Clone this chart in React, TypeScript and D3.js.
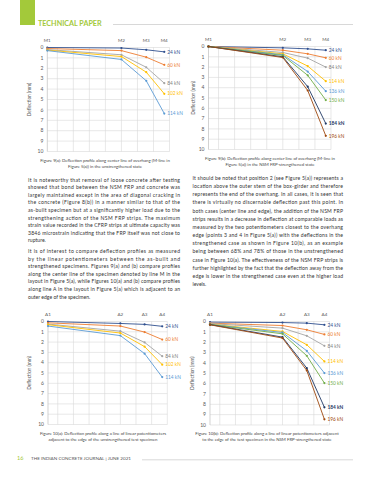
import * as d3 from "d3";
import React from "react";

// potentiometer positions along the overhang (mm) and axis ticks
const gaugePos = [0, 925, 1235, 1460];
const mLabels = ["M1", "M2", "M3", "M4"];
const aLabels = ["A1", "A2", "A3", "A4"];
const yTicks = [0, 1, 2, 3, 4, 5, 6, 7, 8, 9, 10];
const xGrid = [125, 325, 525, 725, 925, 1125, 1325, 1525];

const loadsUnstr = ["24 kN", "60 kN", "84 kN", "102 kN", "114 kN"];
const colorsUnstr = ["#2F4F8F", "#ED7D31", "#A5A5A5", "#FFC000", "#5B9BD5"];
const loadsStr = ["24 kN", "60 kN", "84 kN", "114 kN", "136 kN", "150 kN", "184 kN", "196 kN"];
const colorsStr = ["#2F4F8F", "#ED7D31", "#A5A5A5", "#FFC000", "#5B9BD5", "#70AD47", "#1F3864", "#9E480E"];

const defl9a = [
  [0, 0.05, 0.22, 0.42],
  [0.1, 0.3, 0.93, 1.67],
  [0.2, 0.7, 1.9, 3.43],
  [0.25, 0.87, 2.37, 4.45],
  [0.3, 1.15, 3.2, 6.35],
];
const defl9b = [
  [0, 0.13, 0.23, 0.36],
  [0, 0.36, 0.71, 1.1],
  [0, 0.58, 1.13, 2.0],
  [0, 0.71, 1.9, 3.37],
  [0, 0.8, 2.43, 4.34],
  [0, 0.87, 2.8, 5.2],
  [0, 1.0, 3.9, 7.48],
  [0, 1.07, 4.27, 8.67],
];
const defl10a = [
  [0, 0.19, 0.28, 0.47],
  [0.13, 0.44, 1.03, 1.75],
  [0.25, 0.94, 2.03, 3.37],
  [0.31, 1.12, 2.44, 4.19],
  [0.44, 1.37, 3.12, 5.4],
];
const defl10b = [
  [0.06, 0.1, 0.16, 0.32],
  [0.16, 0.39, 0.8, 1.25],
  [0.2, 0.64, 1.38, 2.35],
  [0.25, 0.96, 2.25, 3.86],
  [0.28, 1.06, 2.83, 4.98],
  [0.3, 1.19, 3.31, 5.95],
  [0.3, 1.51, 4.5, 8.29],
  [0.32, 1.6, 4.73, 9.45],
];

const leftText = [
  ["It is noteworthy that removal of loose concrete after testing", "showed that bond between the NSM FRP and concrete was", "largely maintained except in the area of diagonal cracking in", "the concrete (Figure 8(b)) in a manner similar to that of the", "as-built specimen but at a significantly higher load due to the", "strengthening action of the NSM FRP strips. The maximum", "strain value recorded in the CFRP strips at ultimate capacity was", "3846 microstrain indicating that the FRP itself was not close to", "rupture."],
  ["It is of interest to compare deflection profiles as measured", "by the linear potentiometers between the as-built and", "strengthened specimens. Figures 9(a) and (b) compare profiles", "along the center line of the specimen denoted by line M in the", "layout in Figure 5(a), while Figures 10(a) and (b) compare profiles", "along line A in the layout in Figure 5(a) which is adjacent to an", "outer edge of the specimen."],
];
const rightText = [
  "It should be noted that position 2 (see Figure 5(a)) represents a",
  "location above the outer stem of the box-girder and therefore",
  "represents the end of the overhang. In all cases, it is seen that",
  "there is virtually no discernable deflection past this point. In",
  "both cases (center line and edge), the addition of the NSM FRP",
  "strips results in a decrease in deflection at comparable loads as",
  "measured by the two potentiometers closest to the overhang",
  "edge (points 3 and 4 in Figure 5(a)) with the deflections in the",
  "strengthened case as shown in Figure 10(b), as an example",
  "being between 68% and 78% of those in the unstrengthened",
  "case in Figure 10(a). The effectiveness of the NSM FRP strips is",
  "further highlighted by the fact that the deflection away from the",
  "edge is lower in the strengthened case even at the higher load",
  "levels.",
];

const FONT = "Lato, 'Open Sans', sans-serif";
const GREEN = "#A3C93A";

interface ChartProps {
  left: number; right: number; top: number; bottom: number;
  gauges: string[];
  loads: string[];
  colors: string[];
  values: number[][];
  caption: string[];
  captionX: number;
  axisLabelX: number;
}

const Chart: React.FC<ChartProps> = (p) => {
  const x = d3.scaleLinear().domain([0, 1525]).range([p.left, p.right]);
  const y = d3.scaleLinear().domain([0, 10]).range([p.top, p.bottom]);
  const line = d3.line<number>().x((_, i) => x(gaugePos[i])).y((d) => y(d));
  return (
    <g fontFamily={FONT}>
      {yTicks.map((t) => (
        <g key={"h" + t}>
          <line x1={p.left} x2={p.right} y1={y(t)} y2={y(t)} stroke="#D9D9D9" strokeWidth={0.6} />
          <text x={p.left - 4} y={y(t) + 1.7} fontSize={5} textAnchor="end" fill="#595959">{t}</text>
        </g>
      ))}
      {xGrid.map((g) => (
        <line key={"v" + g} x1={x(g)} x2={x(g)} y1={p.top} y2={p.bottom} stroke="#D9D9D9" strokeWidth={0.6} />
      ))}
      <line x1={p.left} x2={p.left} y1={p.top} y2={p.bottom} stroke="#BFBFBF" strokeWidth={0.7} />
      {p.gauges.map((g, i) => (
        <text key={g} x={x(gaugePos[i])} y={p.top - 5.5} fontSize={4.6} textAnchor="middle" fill="#595959">{g}</text>
      ))}
      <text transform={`translate(${p.axisLabelX},${(p.top + p.bottom) / 2}) rotate(-90)`} fontSize={4.8} textAnchor="middle" fill="#595959">Deflection (mm)</text>
      {p.values.map((vals, si) => (
        <g key={p.loads[si]}>
          <path d={line(vals) || ""} fill="none" stroke={p.colors[si]} strokeWidth={0.9} />
          {vals.map((v, i) => (
            <circle key={i} cx={x(gaugePos[i])} cy={y(v)} r={1.1} fill={p.colors[si]} />
          ))}
          <text x={x(gaugePos[3]) + 3} y={y(vals[3]) + 1.7} fontSize={4.8}
            fill={p.colors[si] === "#A5A5A5" ? "#7F7F7F" : p.colors[si]}
            fontWeight={p.loads[si] === "184 kN" ? 700 : 400}>{p.loads[si]}</text>
        </g>
      ))}
      {p.caption.map((c, i) => (
        <text key={i} x={p.captionX} y={p.bottom + 10 + i * 6.3} fontSize={4.3} textAnchor="middle" fill="#444">{c}</text>
      ))}
    </g>
  );
};

const Para: React.FC<{ lines: string[]; x: number; y0: number; step: number; width: number }> = ({ lines, x, y0, step, width }) => (
  <g fontFamily={FONT} fontSize={5.1} fill="#333">
    {lines.map((l, i) => (
      <text key={i} x={x} y={y0 + i * step}
        {...(i < lines.length - 1 ? { textLength: width, lengthAdjust: "spacing" } : {})}>{l}</text>
    ))}
  </g>
);

export default function App() {
  return (
    <svg width={373} height={480} style={{ position: "absolute", left: 0, top: 0, background: "#fff" }}>
      <rect x={20} y={0} width={15} height={25} fill={GREEN} />
      <text x={38} y={25.5} fontFamily={FONT} fontWeight={700} fontSize={7.2} fill={GREEN}>TECHNICAL PAPER</text>
      <line x1={113} x2={353} y1={24.5} y2={24.5} stroke="#BDBDBD" strokeWidth={0.6} />

      <Chart left={47.3} right={169.5} top={47.5} bottom={151.5} gauges={mLabels}
        loads={loadsUnstr} colors={colorsUnstr} values={defl9a} captionX={105} axisLabelX={31}
        caption={["Figure 9(a): Deflection profile along center line of overhang (M-line in", "Figure 5(a)) in the unstrengthened state"]} />
      <Chart left={208.5} right={331} top={46.5} bottom={149.5} gauges={mLabels}
        loads={loadsStr} colors={colorsStr} values={defl9b} captionX={270} axisLabelX={195}
        caption={["Figure 9(b): Deflection profile along center line of overhang (M-line in", "Figure 5(a)) in the NSM FRP-strengthened state"]} />

      <Para lines={leftText[0]} x={28} y0={181.5} step={7.6} width={152} />
      <Para lines={leftText[1]} x={28} y0={253} step={7.6} width={152} />
      <Para lines={rightText} x={192.5} y0={180} step={8.15} width={150.5} />

      <Chart left={48} right={167.3} top={321.5} bottom={424.5} gauges={aLabels}
        loads={loadsUnstr} colors={colorsUnstr} values={defl10a} captionX={103} axisLabelX={30.5}
        caption={["Figure 10(a): Deflection profile along a line of linear potentiometers", "adjacent to the edge of the unstrengthened test specimen"]} />
      <Chart left={210} right={329.5} top={321.5} bottom={425} gauges={aLabels}
        loads={loadsStr} colors={colorsStr} values={defl10b} captionX={267} axisLabelX={193.5}
        caption={["Figure 10(b): Deflection profile along a line of linear potentiometers adjacent", "to the edge of the test specimen in the NSM FRP-strengthened state"]} />

      <text x={17} y={460} fontFamily={FONT} fontSize={5.5} fill={GREEN}>16</text>
      <text x={31} y={460} fontFamily={FONT} fontSize={4.6} fill="#555">THE INDIAN CONCRETE JOURNAL | JUNE 2021</text>
      <line x1={142} x2={353} y1={459.8} y2={459.8} stroke="#BDBDBD" strokeWidth={0.6} />
    </svg>
  );
}
